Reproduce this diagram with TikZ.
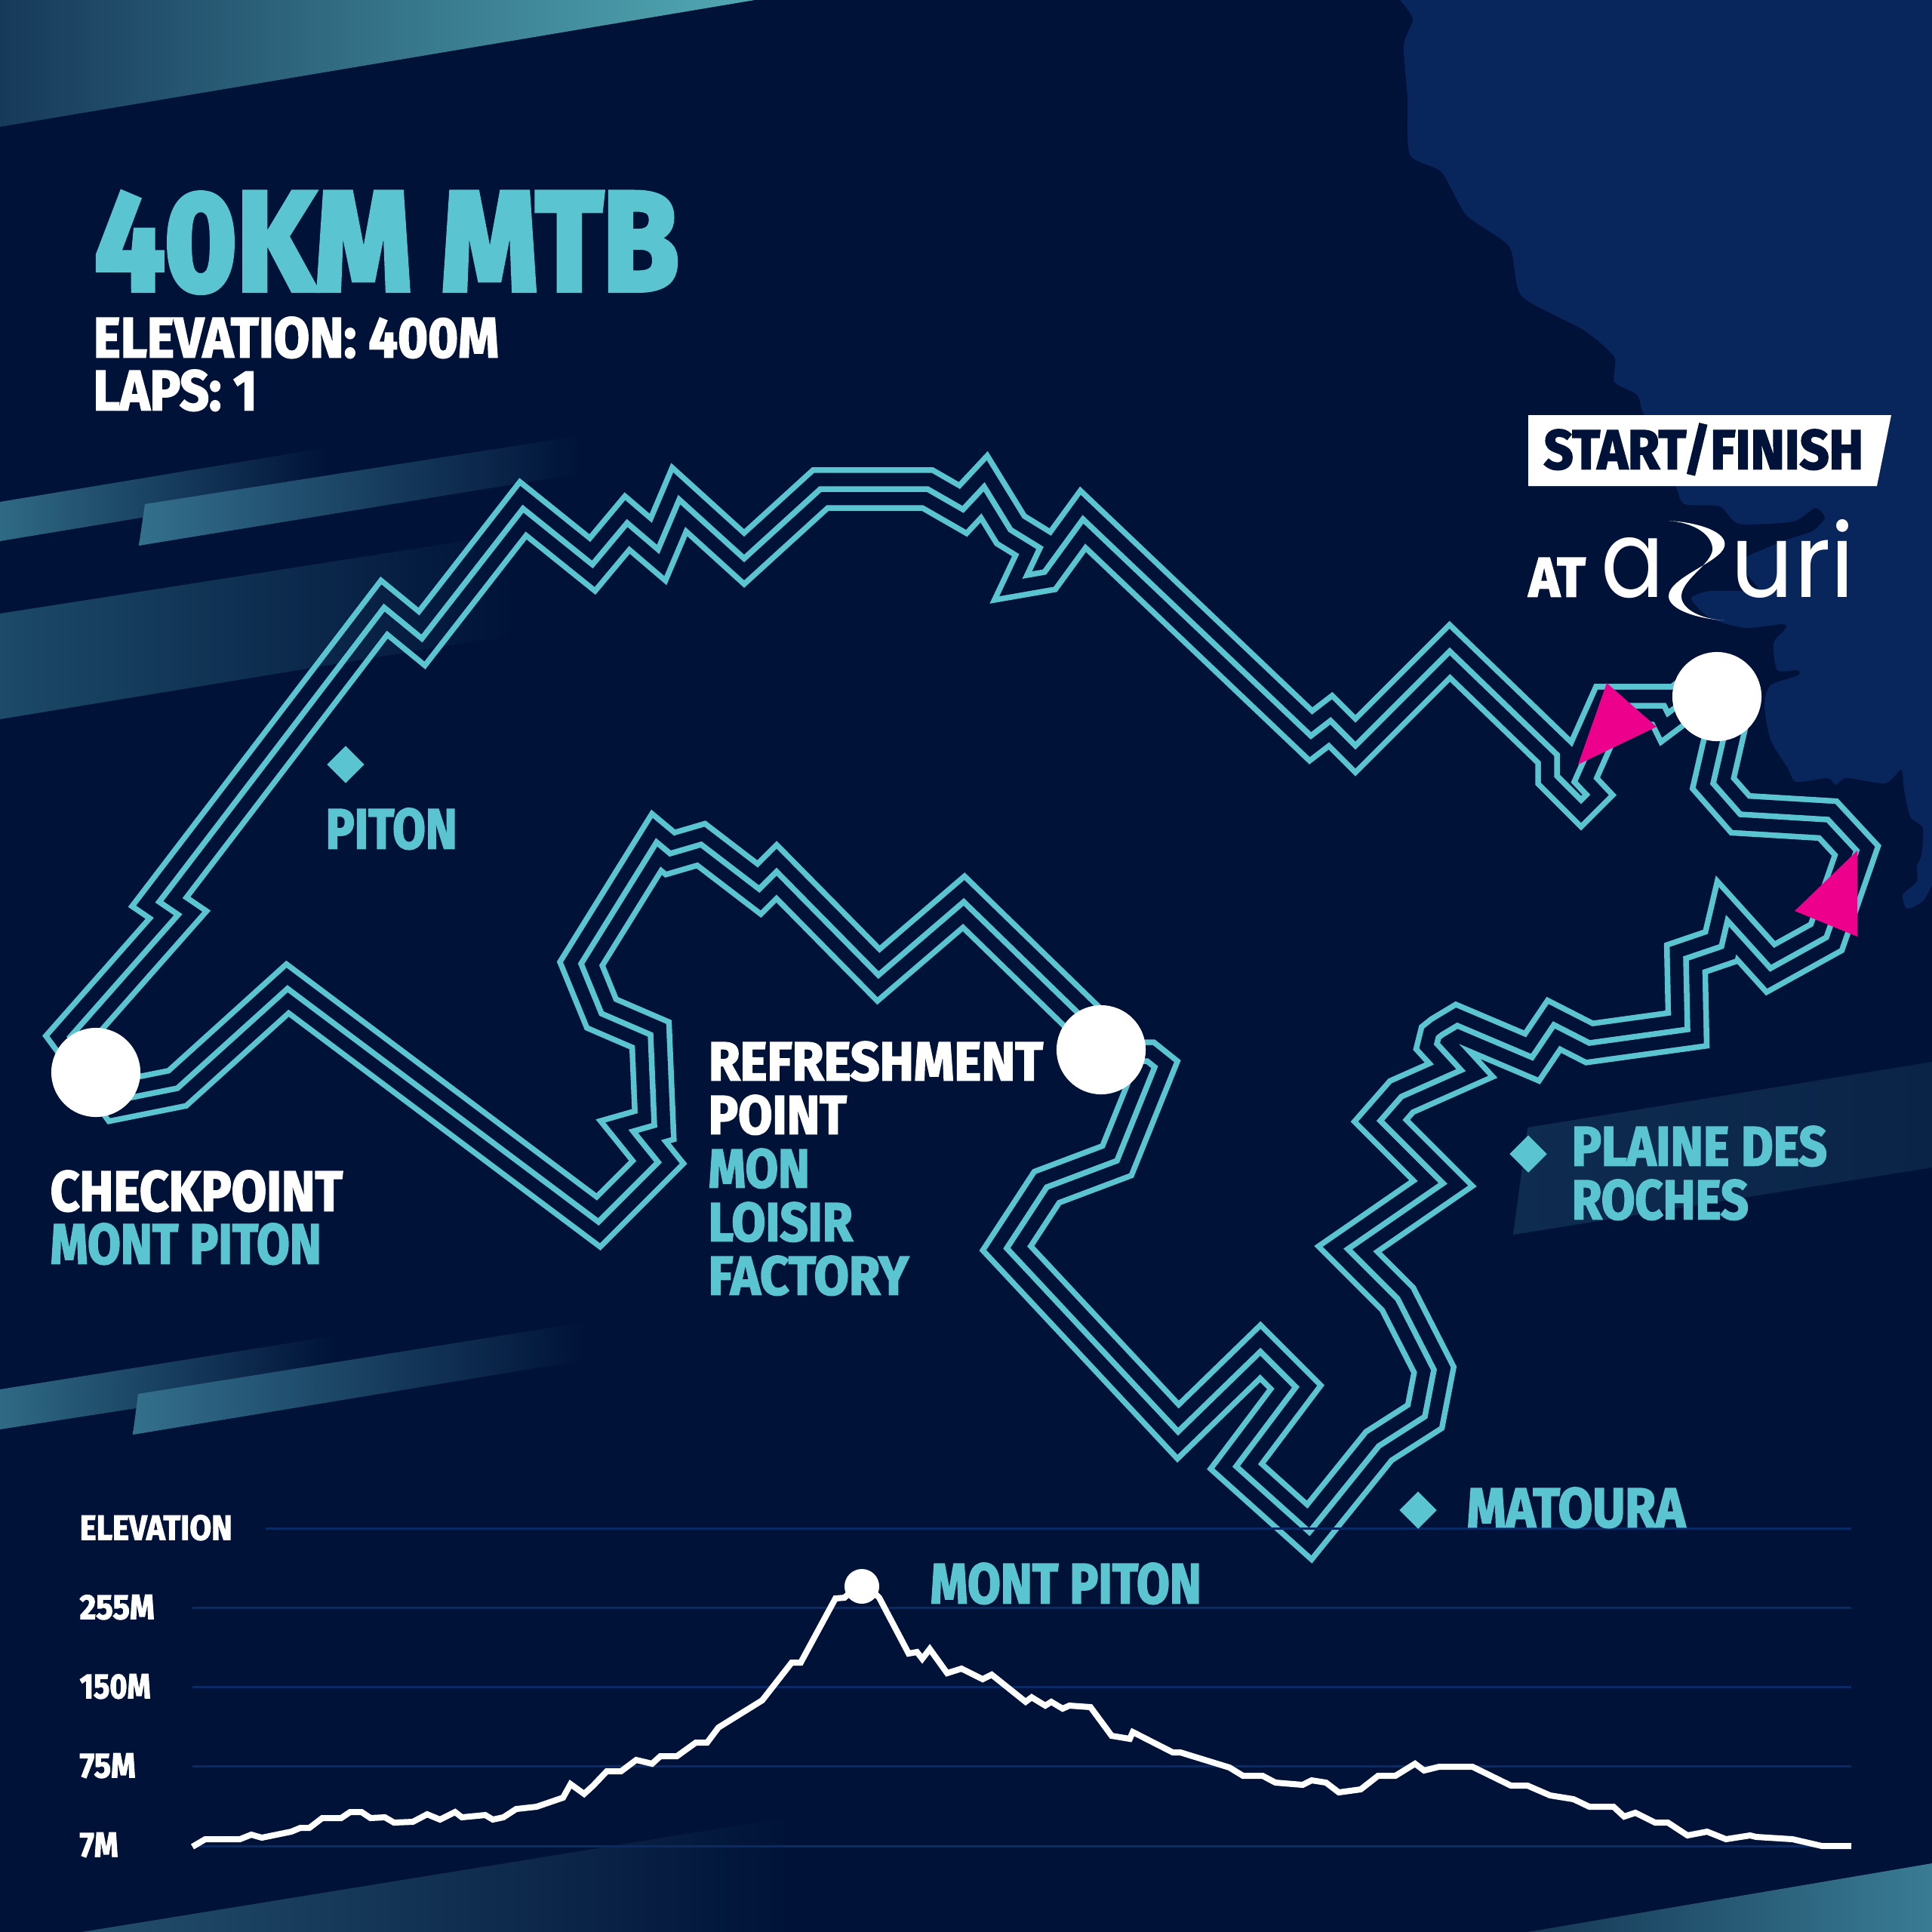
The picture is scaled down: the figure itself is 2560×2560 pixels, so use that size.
\documentclass[tikz,border=0pt]{standalone}
\usepackage{fontspec}
\usepackage{graphicx}
\usetikzlibrary{shapes.geometric}
\newfontfamily\heavybase[BoldFeatures={FakeBold=2.6}]{Fira Sans}
\newfontfamily\titlebase[BoldFeatures={FakeBold=4}]{Fira Sans}
\newcommand{\heavyfont}{\heavybase\bfseries}
\newfontfamily\logofont{Poppins}
\definecolor{bgnavy}{HTML}{001238}
\definecolor{landblue}{HTML}{08255C}
\definecolor{gridblue}{HTML}{0A2A66}
\definecolor{routecyan}{HTML}{5BC4D1}
\definecolor{arrowpink}{HTML}{EC008C}
% text set to a given width and cap height, in cm
\newcommand{\capfit}[3]{\resizebox{\dimexpr#1cm+.03cm\relax}{#2cm}{\rule{0pt}{\fontcharht\font`H}\smash{#3}}}
\tikzset{
  whitetext/.style={text=white,font=\heavyfont\fontsize{20}{20}\selectfont,inner sep=0pt,anchor=south west,xshift=-.03cm},
  cyantext/.style={whitetext,text=routecyan},
  darktext/.style={whitetext,text=bgnavy},
  routeline/.style={line join=miter,miter limit=25,
    preaction={draw=routecyan,line width=5.75mm},
    preaction={draw=bgnavy,line width=4.25mm},
    draw=routecyan,line width=.75mm},
  stopdot/.style={circle,fill=white,inner sep=0pt,minimum size=1.18cm},
  placemark/.style={diamond,fill=routecyan,inner sep=0pt,minimum size=.5cm},
  gridline/.style={draw=gridblue,line width=.3mm},
  profileline/.style={draw=white,line width=.8mm,line join=miter}
}
\begin{document}
\begin{tikzpicture}[x=0.01cm,y=-0.01cm]
  \useasboundingbox (0,0) rectangle (2560,2560);
  \fill[bgnavy] (0,0) rectangle (2560,2560);
  % sea
  \fill[landblue] plot[smooth,tension=.4] coordinates {(1855,0) (1872,25) (1860,60) (1865,130) (1868,205) (1910,228) (1943,285) (2000,327) (2016,392) (2098,437) (2139,473) (2139,506) (2169,523) (2178,549) (2220,644) (2232,668) (2279,671) (2304,694) (2376,691) (2405,673) (2418,686) (2401,704) (2363,717) (2304,745) (2329,781) (2266,783) (2241,793) (2266,819) (2312,832) (2363,827) (2365,834) (2350,852) (2355,888) (2382,888) (2382,895) (2346,908) (2338,934) (2346,980) (2369,1018) (2380,1036) (2422,1031) (2432,1040) (2447,1031) (2498,1038) (2519,1020) (2523,1046) (2531,1082) (2548,1097) (2546,1133) (2540,1148) (2540,1168) (2521,1186) (2527,1204) (2548,1194) (2560,1173)} -- (2560,0) -- cycle;
  % route
  \path[routeline] (155,1458) -- (93,1374) -- (236,1212) -- (211,1195) -- (509,805) -- (559,846) -- (693,674) -- (785,748) -- (831,693) -- (872,728) -- (900,662) -- (986,740) -- (1087,648) -- (1229,648) -- (1276,675) -- (1304,645) -- (1339,702) -- (1378,726) -- (1361,762) -- (1384,758) -- (1435,688) -- (1737,975) -- (1763,955) -- (1796,988) -- (1921,863) -- (2063,1000) -- (2063,1028) -- (2095,1060) -- (2102,1053) -- (2086,1036) -- (2131,935) -- (2205,935) -- (2210,945) -- (2250,915) -- (2280,905) -- (2296,925) -- (2270,1038) -- (2306,1079) -- (2422,1086) -- (2460,1127) -- (2420,1242) -- (2346,1283) -- (2289,1220) -- (2281,1254) -- (2234,1270) -- (2236,1364) -- (2106,1382) -- (2059,1358) -- (2030,1401) -- (1931,1359) -- (1911,1371) -- (1906,1375) -- (1904,1383) -- (1936,1418) -- (1857,1453) -- (1829,1485) -- (1912,1568) -- (1786,1655) -- (1852,1721) -- (1900,1815) -- (1888,1877) -- (1827,1916) -- (1735,2030) -- (1638,1943) -- (1717,1838) -- (1670,1791) -- (1561,1897) -- (1334,1654) -- (1387,1573) -- (1480,1538) -- (1530,1414) -- (1520,1406) -- (1494,1406) -- (1277,1195) -- (1164,1292) -- (1029,1155) -- (1006,1178) -- (929,1119) -- (888,1131) -- (870,1116) -- (770,1277) -- (797,1343) -- (862,1371) -- (867,1491) -- (839,1499) -- (872,1540) -- (793,1619) -- (381,1310) -- (235,1442) -- cycle;
  % bands
  \begin{scope}[blend mode=lighten]
    \shade[left color={rgb,255:red,23;green,58;blue,90},right color={rgb,255:red,82;green,170;blue,181}] (0,0) -- (1000,0) -- (0,168) -- cycle;
    \shade[left color={rgb,255:red,47;green,106;blue,133},right color=bgnavy] (0,665) -- (434,593) -- (434,645) -- (0,717) -- cycle;
    \shade[left color={rgb,255:red,51;green,112;blue,140},right color=bgnavy] (192,668) -- (770,577) -- (770,627) -- (184,723) -- cycle;
    \shade[left color={rgb,255:red,28;green,74;blue,104},right color=bgnavy] (0,813) -- (640,713) -- (680,707) -- (680,841) -- (0,953) -- cycle;
    \shade[left color={rgb,255:red,47;green,106;blue,133},right color=bgnavy] (0,1841) -- (444,1770) -- (444,1825) -- (0,1894) -- cycle;
    \shade[left color={rgb,255:red,51;green,112;blue,140},right color=bgnavy] (183,1847) -- (775,1752) -- (775,1802) -- (176,1901) -- cycle;
    \shade[left color={rgb,255:red,14;green,44;blue,80},right color={rgb,255:red,10;green,36;blue,71}] (2024,1494) -- (2560,1407) -- (2560,1547) -- (2005,1636) -- cycle;
    \shade[left color={rgb,255:red,35;green,79;blue,108},right color=bgnavy] (108,2560) -- (1045,2408) -- (1045,2560) -- cycle;
    \shade[left color={rgb,255:red,20;green,55;blue,85},right color={rgb,255:red,58;green,124;blue,148}] (2024,2560) -- (2560,2469) -- (2560,2560) -- cycle;
  \end{scope}
  % elevation grid
  \draw[gridline] (352,2025) -- (2453,2025);
  \foreach \gy in {2130,2235,2340,2446}
    \draw[gridline] (255,\gy) -- (2453,\gy);
  % elevation profile
  \draw[profileline] plot coordinates {(255,2447) (272,2437) (318,2437) (333,2431) (347,2435) (386,2427) (398,2422) (410,2422) (427,2409) (452,2409) (464,2401) (479,2401) (491,2409) (510,2408) (522,2415) (547,2414) (566,2404) (583,2411) (603,2401) (612,2408) (643,2405) (653,2411) (667,2408) (684,2397) (711,2394) (746,2382) (756,2364) (774,2377) (786,2366) (804,2347) (823,2347) (843,2332) (864,2337) (875,2327) (897,2327) (922,2309) (937,2309) (952,2289) (1010,2253) (1049,2203) (1061,2203) (1107,2118) (1119,2117) (1142,2095) (1165,2117) (1204,2191) (1215,2189) (1222,2198) (1232,2185) (1255,2217) (1274,2211) (1302,2225) (1314,2219) (1359,2255) (1367,2249) (1385,2260) (1393,2255) (1408,2264) (1417,2260) (1445,2262) (1473,2300) (1497,2304) (1501,2295) (1554,2322) (1564,2322) (1629,2342) (1647,2353) (1673,2353) (1690,2362) (1726,2365) (1738,2359) (1757,2362) (1774,2375) (1803,2371) (1826,2353) (1849,2353) (1875,2337) (1887,2346) (1907,2341) (1951,2341) (2002,2366) (2024,2366) (2054,2379) (2085,2384) (2106,2394) (2138,2394) (2152,2407) (2167,2402) (2193,2415) (2210,2415) (2236,2432) (2262,2427) (2287,2437) (2319,2432) (2327,2434) (2375,2437) (2414,2446) (2453,2446)};
  \node[circle,fill=white,inner sep=0pt,minimum size=.46cm] (summitDot) at (1142,2102) {};
  % stops
  \node[stopdot] (checkDot) at (127,1421) {};
  \node[stopdot] (refreshDot) at (1459,1391) {};
  \node[stopdot] (startDot) at (2275,923) {};
  % direction marks
  \fill[arrowpink] (2129,905) -- (2195,963) -- (2091,1013) -- cycle;
  \fill[arrowpink] (2461,1127) -- (2461,1241) -- (2378,1207) -- cycle;
  % places
  \node[placemark] (pitonMark) at (458,1013) {};
  \node[placemark] (plaineMark) at (2025,1529) {};
  \node[placemark] (matouraMark) at (1879,2001) {};
  % title
  \node[cyantext,font=\titlebase\bfseries\fontsize{20}{20}\selectfont] (titleText) at (128,385) {\capfit{7.7}{1.29}{40KM MTB}};
  \node[whitetext] (elevationText) at (126,474) {\capfit{5.34}{.52}{ELEVATION: 400M}};
  \node[whitetext] (lapsText) at (126,544) {\capfit{2.14}{.52}{LAPS: 1}};
  % labels on the map
  \node[cyantext] (pitonText) at (434,1125) {\capfit{1.71}{.52}{PITON}};
  \node[whitetext] (checkText) at (69,1605) {\capfit{3.84}{.52}{CHECKPOINT}};
  \node[cyantext] (montText) at (69,1675) {\capfit{3.56}{.52}{MONT PITON}};
  \node[whitetext] (refreshText) at (941,1432) {\capfit{4.4}{.5}{REFRESHMENT}};
  \node[whitetext] (pointText) at (941,1503) {\capfit{1.8}{.5}{POINT}};
  \node[cyantext] (monText) at (941,1574) {\capfit{1.31}{.5}{MON}};
  \node[cyantext] (loisirText) at (941,1645) {\capfit{1.88}{.5}{LOISIR}};
  \node[cyantext] (factoryText) at (941,1716) {\capfit{2.62}{.5}{FACTORY}};
  \node[cyantext] (plaineText) at (2085,1545) {\capfit{3.35}{.51}{PLAINE DES}};
  \node[cyantext] (rochesText) at (2085,1616) {\capfit{2.31}{.51}{ROCHES}};
  \node[cyantext] (matouraText) at (1946,2024) {\capfit{2.86}{.51}{MATOURA}};
  % start banner
  \fill[white] (2025,550) -- (2506,550) -- (2487,644) -- (2025,644) -- cycle;
  \node[darktext] (startText) at (2048,622) {\capfit{4.2}{.51}{START/FINISH}};
  \node[whitetext] (atText) at (2028,791) {\capfit{.72}{.51}{AT}};
  % logo
  \node[inner sep=0pt,anchor=south west,text=white] (logoA) at (2121,793) {\resizebox{.84cm}{.79cm}{\logofont a}};
  \fill[white] (2211,690) .. controls (2250,692) and (2290,705) .. (2285,724) .. controls (2280,745) and (2211,765) .. (2211,790) .. controls (2211,808) and (2250,820) .. (2285,822) .. controls (2250,820) and (2226,805) .. (2228,788) .. controls (2231,765) and (2272,745) .. (2269,725) .. controls (2266,705) and (2240,692) .. (2211,690) -- cycle;
  \node[inner sep=0pt,anchor=south west,text=white] (logoUri) at (2293,793) {\resizebox{1.64cm}{1.03cm}{\logofont uri}};
  % elevation labels
  \node[whitetext] (axisTitle) at (108,2041) {\capfit{1.99}{.32}{ELEVATION}};
  \node[whitetext] (axisA) at (108,2146) {\capfit{.96}{.32}{255M}};
  \node[whitetext] (axisB) at (108,2251) {\capfit{.91}{.32}{150M}};
  \node[whitetext] (axisC) at (108,2356) {\capfit{.71}{.32}{75M}};
  \node[whitetext] (axisD) at (108,2461) {\capfit{.48}{.32}{7M}};
  \node[cyantext] (summitText) at (1235,2125) {\capfit{3.56}{.52}{MONT PITON}};
\end{tikzpicture}
\end{document}
